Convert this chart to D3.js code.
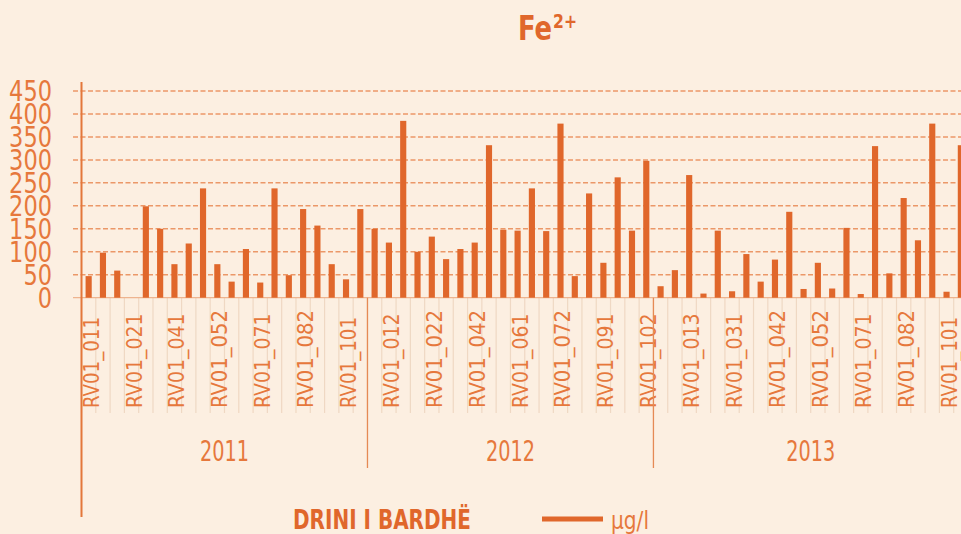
<!DOCTYPE html>
<html>
<head>
<meta charset="utf-8">
<script src="https://cdn.jsdelivr.net/npm/d3@7"></script>
<style>
  html, body { margin: 0; padding: 0; background: #fcefe1; overflow: hidden; }
  svg { display: block; font-family: 'DejaVu Sans Condensed', 'DejaVu Sans', sans-serif; }
</style>
</head>
<body>
<div class="chart"></div>
<script>
'use strict';

const years = ['2011', '2012', '2013'];

// Fe2+ in µg/l, one value per sample, by year (null = no sample)
const values2011 = [47, 98, 59, null, 199, 150, 73, 118, 238, 73, 35, 106, 33, 238, 49, 193, 157, 73, 40, 193];
const values2012 = [150, 120, 385, 100, 133, 84, 106, 120, 332, 148, 146, 238, 145, 379, 47, 227, 76, 262, 146, 298];
const values2013 = [25, 60, 267, 9, 146, 14, 95, 35, 83, 187, 19, 76, 20, 152, 8, 330, 53, 217, 125, 379, 13, 332];

// only every third sample is labelled on the axis
const tickLabels = ['RV01_011', 'RV01_021', 'RV01_041', 'RV01_052', 'RV01_071', 'RV01_082', 'RV01_101',
  'RV01_012', 'RV01_022', 'RV01_042', 'RV01_061', 'RV01_072', 'RV01_091', 'RV01_102',
  'RV01_013', 'RV01_031', 'RV01_042', 'RV01_052', 'RV01_071', 'RV01_082', 'RV01_101'];
const tickEvery = 3;

const yTicks = [0, 50, 100, 150, 200, 250, 300, 350, 400, 450];

const title = 'Fe';
const titleSup = '2+';
const legendName = 'DRINI I BARDHË';
const legendUnit = 'µg/l';

const BAR = '#e0672b';
const TEXT = '#e6783c';
const GRID = '#eb9868';
const TICK = '#efd8c3';

const FULL_WIDTH = 961;
const FULL_HEIGHT = 534;

const margin = {
  top: 91,
  left: 81.5,
  right: -7,
  bottom: 236
};

const groups = [values2011, values2012, values2013];
const data = [];
groups.forEach((vals, g) => {
  vals.forEach((v) => {
    data.push({i: data.length, year: years[g], value: v});
  });
});
const groupStart = [];
let acc = 0;
groups.forEach((vals) => {
  groupStart.push(acc);
  acc += vals.length;
});

// the original type is a narrow DIN-like face, so squeeze text to its width
function fit(sel, w) {
  sel.attr('textLength', w).attr('lengthAdjust', 'spacingAndGlyphs');
}

const svg = d3.select('.chart')
  .append('svg')
    .attr('width', FULL_WIDTH)
    .attr('height', FULL_HEIGHT);

const x = d3.scaleBand()
  .domain(data.map((d) => d.i))
  .range([margin.left, FULL_WIDTH - margin.right])
  .paddingInner(0.57)
  .paddingOuter(0.285);

const y = d3.scaleLinear()
  .domain([0, 450])
  .range([FULL_HEIGHT - margin.bottom - 0.3, margin.top]);

const step = x.step();
const gap = (step - x.bandwidth()) / 2;
const edge = (i) => x(i) - gap;

// title
svg.append('text')
  .attr('x', 518)
  .attr('y', 40)
  .attr('fill', BAR)
  .attr('font-weight', 'bold')
  .attr('font-size', 34)
  .text(title)
  .call(fit, 34);
svg.append('text')
  .attr('x', 553)
  .attr('y', 28)
  .attr('fill', BAR)
  .attr('font-weight', 'bold')
  .attr('font-size', 20)
  .text(titleSup)
  .call(fit, 24);

// grid lines
svg.append('g')
  .selectAll('line')
  .data(yTicks.filter((d) => d > 0))
  .enter()
  .append('line')
    .attr('x1', 73)
    .attr('x2', FULL_WIDTH)
    .attr('y1', (d) => y(d))
    .attr('y2', (d) => y(d))
    .attr('stroke', GRID)
    .attr('stroke-width', 1.5)
    .attr('stroke-dasharray', '5,2.5');

// category tick lines under the plot
svg.append('g')
  .selectAll('line')
  .data(data)
  .enter()
  .append('line')
    .attr('x1', (d) => edge(d.i))
    .attr('x2', (d) => edge(d.i))
    .attr('y1', y(0))
    .attr('y2', 413)
    .attr('stroke', TICK)
    .attr('stroke-width', 1.2);

// baseline
svg.append('line')
  .attr('x1', 73)
  .attr('x2', FULL_WIDTH)
  .attr('y1', y(0))
  .attr('y2', y(0))
  .attr('stroke', '#eeb48f')
  .attr('stroke-width', 1.2);

// bars
svg.selectAll('.bar')
  .data(data.filter((d) => d.value !== null))
  .enter()
  .append('rect')
    .attr('class', 'bar')
    .attr('x', (d) => x(d.i))
    .attr('y', (d) => y(d.value))
    .attr('width', x.bandwidth())
    .attr('height', (d) => y(0) - y(d.value))
    .attr('fill', BAR);

// y labels
svg.append('g')
  .selectAll('text')
  .data(yTicks)
  .enter()
  .append('text')
    .attr('x', 52)
    .attr('y', (d) => y(d))
    .attr('dy', '0.36em')
    .attr('text-anchor', 'end')
    .attr('font-size', 29)
    .attr('fill', TEXT)
    .text((d) => d)
    .each(function(d) {
      d3.select(this).call(fit, String(d).length * 14.3);
    });

// sample labels, rotated
svg.append('g')
  .selectAll('text')
  .data(tickLabels)
  .enter()
  .append('text')
    .attr('transform', (d, k) => {
      const cx = x(k * tickEvery) + x.bandwidth() / 2 + 10;
      return 'translate(' + cx + ',408) rotate(-90)';
    })
    .attr('font-size', 20.5)
    .attr('fill', TEXT)
    .text((d) => d)
    .each(function(d) {
      const ones = d.slice(5).split('').filter((c) => c === '1').length;
      d3.select(this).call(fit, 98 - 3.5 * ones);
    });

// year separators
svg.append('g')
  .selectAll('line')
  .data(groupStart.slice(1))
  .enter()
  .append('line')
    .attr('x1', (d) => edge(d))
    .attr('x2', (d) => edge(d))
    .attr('y1', y(0))
    .attr('y2', 468)
    .attr('stroke', '#e58a55')
    .attr('stroke-width', 1.3);

// year labels
svg.append('g')
  .selectAll('text')
  .data(years)
  .enter()
  .append('text')
    .attr('x', (d, g) => {
      const a = edge(groupStart[g]);
      const b = edge(groupStart[g] + groups[g].length - 1) + step;
      return (a + b) / 2;
    })
    .attr('y', 461)
    .attr('text-anchor', 'middle')
    .attr('font-size', 28)
    .attr('fill', TEXT)
    .text((d) => d)
    .call(fit, 49);

// y axis line
svg.append('line')
  .attr('x1', margin.left)
  .attr('x2', margin.left)
  .attr('y1', 82)
  .attr('y2', 517)
  .attr('stroke', '#e3773a')
  .attr('stroke-width', 2);

// legend
svg.append('text')
  .attr('x', 293)
  .attr('y', 529)
  .attr('font-size', 27)
  .attr('font-weight', 'bold')
  .attr('fill', BAR)
  .text(legendName)
  .call(fit, 178);

svg.append('line')
  .attr('x1', 542)
  .attr('x2', 603)
  .attr('y1', 519)
  .attr('y2', 519)
  .attr('stroke', BAR)
  .attr('stroke-width', 5);

svg.append('text')
  .attr('x', 611)
  .attr('y', 529)
  .attr('font-size', 25)
  .attr('fill', TEXT)
  .text(legendUnit)
  .call(fit, 38);
</script>
</body>
</html>
